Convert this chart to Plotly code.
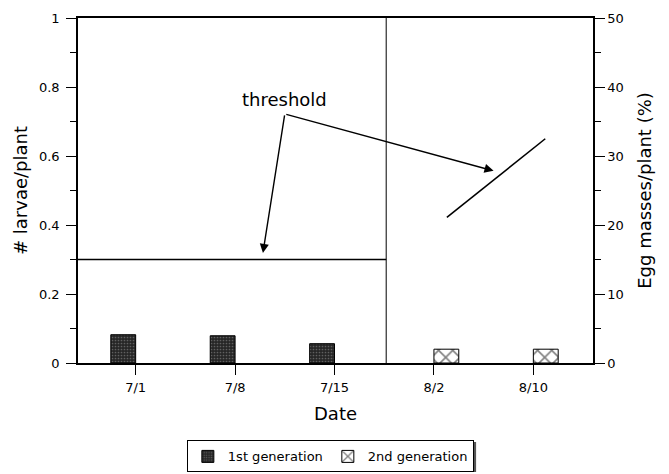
import plotly.graph_objects as go

# ---- data ----
dates = ["7/1", "7/8", "7/15", "8/2", "8/10"]
date_pos = [0, 1, 2, 3, 4]
gen1_larvae = [0.082, 0.079, 0.056, None, None]      # # larvae/plant (left axis)
gen2_eggs = [None, None, None, 2.0, 2.0]             # egg masses/plant % (right axis)

# thresholds
gen1_threshold_x = [-0.58, 2.52]
gen1_threshold_y = [0.3, 0.3]
gen2_threshold_x = [3.13, 4.12]
gen2_threshold_y = [21.1, 32.5]                        # right-axis units
divider_x = 2.52

FONT = "DejaVu Sans, Liberation Sans, Arial, sans-serif"

fig = go.Figure()

fig.add_trace(go.Bar(
    x=date_pos, y=gen1_larvae, name="1st generation",
    offset=-0.25, width=0.25,
    marker=dict(color="#2b2b2b", line=dict(color="black", width=1),
                pattern=dict(shape=".", fgcolor="#9a9a9a", bgcolor="#262626",
                             size=3, solidity=0.25)),
    yaxis="y",
))
fig.add_trace(go.Bar(
    x=date_pos, y=gen2_eggs, name="2nd generation",
    offset=0.0, width=0.25,
    marker=dict(color="white", line=dict(color="black", width=1),
                pattern=dict(shape="x", fgcolor="black", bgcolor="white",
                             size=10, solidity=0.3)),
    yaxis="y2",
))

fig.add_trace(go.Scatter(
    x=gen1_threshold_x, y=gen1_threshold_y, mode="lines",
    line=dict(color="black", width=1.3), showlegend=False, yaxis="y",
))
fig.add_trace(go.Scatter(
    x=gen2_threshold_x, y=gen2_threshold_y, mode="lines",
    line=dict(color="black", width=1.6), showlegend=False, yaxis="y2",
))

fig.add_shape(type="line", xref="x", yref="paper", x0=divider_x, x1=divider_x,
              y0=0, y1=1, line=dict(color="black", width=1))

# legend drop shadow (right edge)
fig.add_shape(type="rect", xref="paper", yref="paper",
              x0=0.767, x1=0.773, y0=-0.316, y1=-0.229,
              fillcolor="#555555", line=dict(width=0), layer="above")

# annotations
fig.add_annotation(x=1.50, y=0.763, xref="x", yref="y", text="threshold",
                   showarrow=False, font=dict(family=FONT, size=18, color="black"))
for tip_x, tip_y in [(1.28, 0.319), (3.60, 0.557)]:
    fig.add_annotation(x=tip_x, y=tip_y, xref="x", yref="y",
                       ax=1.50, ay=0.722, axref="x", ayref="y",
                       text="", showarrow=True, arrowhead=2, arrowsize=1.3,
                       arrowwidth=1.4, arrowcolor="black", standoff=0)

fig.update_layout(
    width=661, height=466,
    margin=dict(l=70, r=76, t=10, b=111),
    paper_bgcolor="white", plot_bgcolor="white",
    font=dict(family=FONT, size=13, color="black"),
    barmode="overlay",
    xaxis=dict(
        range=[-0.58, 4.60], tickmode="array", tickvals=date_pos, ticktext=dates,
        showgrid=False, zeroline=False, showline=True, linecolor="black",
        linewidth=1.5, mirror=True, ticks="outside", ticklen=10, tickcolor="black",
        ticklabelstandoff=2, automargin=False,
        title=dict(text="Date", font=dict(size=18), standoff=13),
    ),
    yaxis=dict(
        range=[0, 1], dtick=0.2, showgrid=False, zeroline=False, showline=True,
        linecolor="black", linewidth=1.5, ticks="outside", ticklen=10,
        tickcolor="black", ticklabelstandoff=4, automargin=False,
        minor=dict(dtick=0.1, ticks="outside", ticklen=6, tickcolor="black"),
        title=dict(text="# larvae/plant", font=dict(size=18), standoff=7),
    ),
    yaxis2=dict(
        range=[0, 50], dtick=10, overlaying="y", side="right", showgrid=False,
        zeroline=False, showline=True, linecolor="black", linewidth=1.5,
        ticks="outside", ticklen=10, tickcolor="black", ticklabelstandoff=0,
        automargin=False,
        minor=dict(dtick=5, ticks="outside", ticklen=6, tickcolor="black"),
        title=dict(text="Egg masses/plant (%)", font=dict(size=18), standoff=16),
    ),
    legend=dict(
        orientation="h", x=0.49, xanchor="center",
        yref="container", y=0.072, yanchor="top",
        bordercolor="black", borderwidth=1, bgcolor="white",
        font=dict(size=13), itemwidth=30,
    ),
)

fig.write_html("out.html")
